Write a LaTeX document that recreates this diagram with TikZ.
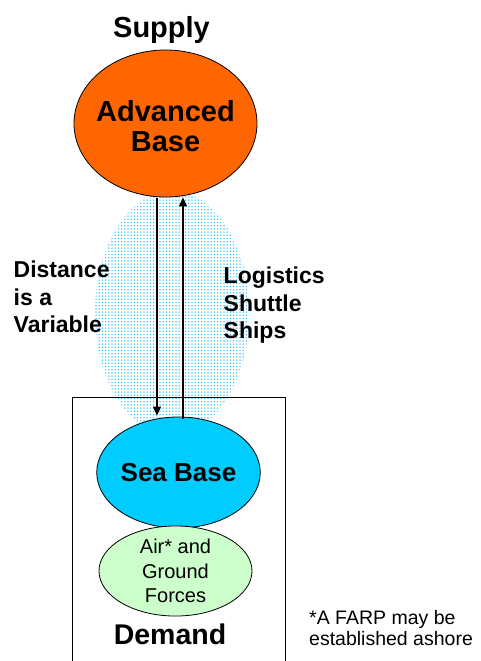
\documentclass[tikz,border=0pt]{standalone}
\usepackage{fontspec}
\setmainfont{Liberation Sans}
\usetikzlibrary{arrows.meta,patterns.meta,shapes.geometric}
\definecolor{advorange}{RGB}{255,102,0}
\definecolor{seacyan}{RGB}{0,204,255}
\definecolor{forcegreen}{RGB}{204,255,204}
\definecolor{dotblue}{RGB}{60,195,250}
\tikzset{
  x=1pt, y=-1pt,
  bubble/.style={ellipse, draw=black, line width=0.8pt, inner sep=0pt, align=center},
  heading/.style={inner sep=0pt, font=\bfseries\fontsize{29}{30}\selectfont},
  sidelabel/.style={inner sep=0pt, align=left, anchor=west, font=\bfseries\fontsize{23}{27.5}\selectfont},
  flow/.style={line width=1.1pt, -{Triangle[length=9pt,width=8pt]}},
}
\begin{document}
\begin{tikzpicture}
\useasboundingbox (0,0) rectangle (480,661);
% demand area outline, open at the bottom
\draw[line width=0.7pt] (72,661) -- (72,397) -- (285,397) -- (285,661);
% dotted zone between supply and demand
\fill[pattern={Dots[distance=3.2pt,radius=0.8pt]}, pattern color=dotblue]
  (172,313) ellipse [x radius=77, y radius=122];
% bases
\node[bubble, fill=advorange, minimum width=183pt, minimum height=147pt] (adv) at (165.5,123.5) {};
\node[inner sep=0pt, align=center, font=\bfseries\fontsize{29}{30}\selectfont] (advtxt)
  at ([yshift=-3pt]adv.center) {Advanced\\Base};
\node[bubble, fill=seacyan, minimum width=163pt, minimum height=111pt,
      font=\bfseries\fontsize{26}{28}\selectfont] (sea) at (178.5,472.5) {Sea Base};
\node[bubble, fill=forcegreen, minimum width=153pt, minimum height=82pt,
      font=\fontsize{20}{24.5}\selectfont] (frc) at (175.5,571) {Air* and\\Ground\\Forces};
% titles
\node[heading] (supply) at (161.5,30.5) {Supply};
\node[heading, font=\bfseries\fontsize{28.5}{30}\selectfont] (demand) at (170,634.6) {Demand};
% side labels
\node[sidelabel] (dist) at (13.5,297) {Distance\\is a\\Variable};
\node[sidelabel] (lss) at (223.5,305.5) {Logistics\\Shuttle\\Ships};
\node[inner sep=0pt, align=left, anchor=west, font=\fontsize{19.5}{20.5}\selectfont] (farp)
  at (309,628) {*A FARP may be\\established ashore};
% shuttle arrows
\coordinate (dtop) at (adv.south -| 157,0);
\coordinate (dbot) at (sea.north -| 157,0);
\coordinate (utop) at (adv.south -| 183,0);
\coordinate (ubot) at (sea.north -| 183,0);
\draw[flow] ([yshift=-1pt]dtop) -- ([yshift=1pt]dbot);
\draw[flow] ([yshift=-2pt]ubot) -- ([yshift=0pt]utop);
\end{tikzpicture}
\end{document}
